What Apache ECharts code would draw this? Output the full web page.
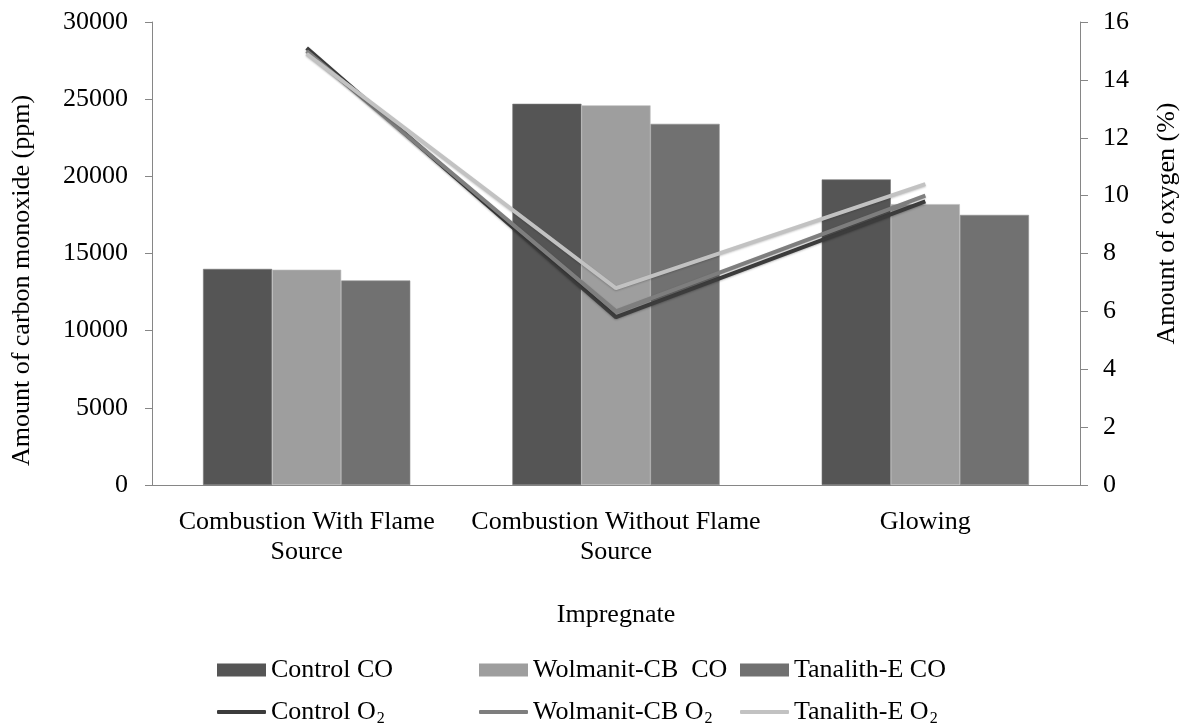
<!DOCTYPE html>
<html>
<head>
<meta charset="utf-8">
<script src="https://cdn.jsdelivr.net/npm/echarts@6/dist/echarts.min.js"></script>
<style>
  html, body { margin: 0; padding: 0; background: #fff; }
  #chart { width: 1189px; height: 727px; }
</style>
</head>
<body>
<div id="chart"></div>
<script>
// Fire test categories
const categories = ['Combustion With Flame\nSource', 'Combustion Without Flame\nSource', 'Glowing'];

// Carbon monoxide (ppm), left axis
const controlCO = [14000, 24700, 19800];
const wolmanitCO = [13950, 24600, 18200];
const tanalithCO = [13250, 23400, 17500];

// Oxygen (%), right axis
const controlO2 = [15.1, 5.8, 9.8];
const wolmanitO2 = [15.0, 6.0, 10.0];
const tanalithO2 = [14.9, 6.8, 10.4];

const FONT = 'Liberation Serif';
const axisGray = '#868686';

const chart = echarts.init(document.getElementById('chart'));

function legendFor(name, left, top, isLine) {
  return {
    data: [{ name: name, icon: isLine ? 'roundRect' : 'rect' }],
    left: left,
    top: top,
    itemWidth: 49,
    itemHeight: isLine ? 4 : 13,
    itemGap: 0,
    selectedMode: false,
    itemStyle: { borderWidth: 0 },
    textStyle: {
      fontFamily: FONT, fontSize: 26, color: '#000',
      rich: {
        t: { fontFamily: FONT, fontSize: 26, color: '#000' },
        s: { fontFamily: FONT, fontSize: 16, color: '#000', padding: [14, 0, 0, 1] }
      }
    },
    formatter: function (n) {
      if (/O2$/.test(n)) return '{t|' + n.slice(0, -1) + '}{s|2}';
      return '{t|' + n + '}';
    }
  };
}

const plainNumber = function (v) { return String(v); };

const option = {
  backgroundColor: '#fff',
  animation: false,
  textStyle: { fontFamily: FONT, color: '#000' },
  grid: { left: 152, right: 109, top: 22, bottom: 242, containLabel: false },
  legend: [
    legendFor('Control CO', 212, 652, false),
    legendFor('Wolmanit-CB  CO', 474, 652, false),
    legendFor('Tanalith-E CO', 735, 652, false),
    legendFor('Control O2', 212, 694, true),
    legendFor('Wolmanit-CB O2', 474, 694, true),
    legendFor('Tanalith-E O2', 735, 694, true)
  ],
  xAxis: {
    type: 'category',
    data: categories,
    name: 'Impregnate',
    nameLocation: 'middle',
    nameGap: 117,
    nameTextStyle: { fontFamily: FONT, fontSize: 26, color: '#000' },
    axisLine: { lineStyle: { color: axisGray, width: 1 } },
    axisTick: { length: 8, lineStyle: { color: axisGray } },
    axisLabel: { fontFamily: FONT, fontSize: 26, color: '#000', lineHeight: 30, margin: 22, interval: 0 },
    splitLine: { show: false }
  },
  yAxis: [
    {
      type: 'value',
      min: 0, max: 30000, interval: 5000,
      name: 'Amount of carbon monoxide (ppm)',
      nameLocation: 'middle',
      nameRotate: 90,
      nameGap: 117,
      nameTextStyle: { fontFamily: FONT, fontSize: 26, color: '#000', padding: [0, 54, 0, 0] },
      axisLine: { show: true, lineStyle: { color: axisGray } },
      axisTick: { show: true, length: 7, lineStyle: { color: axisGray } },
      axisLabel: { fontFamily: FONT, fontSize: 26, color: '#000', margin: 24, formatter: plainNumber },
      splitLine: { show: false }
    },
    {
      type: 'value',
      min: 0, max: 16, interval: 2,
      position: 'right',
      name: 'Amount of oxygen (%)',
      nameLocation: 'middle',
      nameRotate: 90,
      nameGap: 74,
      nameTextStyle: { fontFamily: FONT, fontSize: 26, color: '#000', padding: [0, 0, 0, 60] },
      axisLine: { show: true, lineStyle: { color: axisGray } },
      axisTick: { show: true, length: 8, lineStyle: { color: axisGray } },
      axisLabel: { fontFamily: FONT, fontSize: 26, color: '#000', margin: 23, formatter: plainNumber },
      splitLine: { show: false }
    }
  ],
  series: [
    { name: 'Control CO', type: 'bar', data: controlCO, barGap: '0%', barCategoryGap: '33%',
      itemStyle: { color: '#555555', borderColor: '#777777', borderWidth: 0.6 } },
    { name: 'Wolmanit-CB  CO', type: 'bar', data: wolmanitCO,
      itemStyle: { color: '#9e9e9e', borderColor: '#bdbdbd', borderWidth: 0.6 } },
    { name: 'Tanalith-E CO', type: 'bar', data: tanalithCO,
      itemStyle: { color: '#717171', borderColor: '#8f8f8f', borderWidth: 0.6 } },
    { name: 'Control O2', type: 'line', yAxisIndex: 1, data: controlO2, symbol: 'none',
      lineStyle: { color: '#3c3c3c', width: 4, shadowColor: 'rgba(0,0,0,0.25)', shadowBlur: 2, shadowOffsetY: 1 },
      itemStyle: { color: '#3c3c3c' }, z: 5 },
    { name: 'Wolmanit-CB O2', type: 'line', yAxisIndex: 1, data: wolmanitO2, symbol: 'none',
      lineStyle: { color: '#7e7e7e', width: 4, shadowColor: 'rgba(0,0,0,0.25)', shadowBlur: 2, shadowOffsetY: 1 },
      itemStyle: { color: '#7e7e7e' }, z: 5 },
    { name: 'Tanalith-E O2', type: 'line', yAxisIndex: 1, data: tanalithO2, symbol: 'none',
      lineStyle: { color: '#c2c2c2', width: 4, shadowColor: 'rgba(0,0,0,0.2)', shadowBlur: 2, shadowOffsetY: 1 },
      itemStyle: { color: '#c2c2c2' }, z: 5 }
  ]
};

chart.setOption(option);
</script>
</body>
</html>
